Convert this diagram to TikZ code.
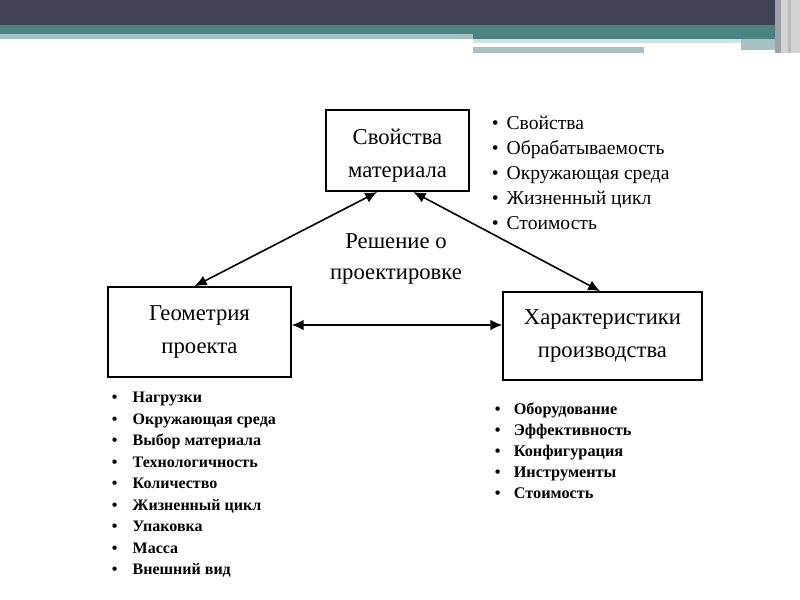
\documentclass[tikz,border=0pt]{standalone}
\usepackage{fontspec}
\setmainfont{Liberation Serif}
\usetikzlibrary{arrows.meta}
\definecolor{kopf}{HTML}{414157}
\definecolor{streifen}{HTML}{4B8383}
\definecolor{hell}{HTML}{A7C1C3}
\begin{document}
\begin{tikzpicture}[x=0.75pt, y=-0.75pt,
			block/.style={draw, line width=1.3pt, align=center, inner sep=0pt, font=\fontsize{17}{24.75}\selectfont},
			punkt/.style={anchor=base west, inner sep=0pt},
			>={Latex[length=9pt,width=8pt]}, %Pfeilspitzen
			line width=1.2pt]
			\useasboundingbox[fill=white] (0,0) rectangle (800,600);
			% Kopfleiste
			\fill[kopf] (0,0) rectangle (800,25);
			\fill[streifen] (0,25) rectangle (775,34);
			\fill[streifen] (473,34) rectangle (775,39);
			\fill[hell] (0,34) rectangle (473,39);
			\fill[hell!50] (473,39) rectangle (741,43);
			\fill[hell] (741,39) rectangle (775,50);
			\fill[hell] (473,47) rectangle (644,53);
			\fill[kopf!50] (775,0) rectangle (781,53);
			\fill[gray!35] (781,0) rectangle (800,53);
			\fill[gray!55] (788,0) rectangle (791,53);
			% Bloecke
			\node[block, minimum width=107pt, minimum height=61pt] (mat) at (397.5,150.5) {\rule{0pt}{19pt}Свойства\\материала};
			\node[block, minimum width=137pt, minimum height=67.5pt] (geo) at (199.5,332) {Геометрия\\проекта};
			\node[block, minimum width=149pt, minimum height=66pt] (her) at (602.5,336) {Характеристики\\производства};
			\node[align=center, font=\fontsize{17}{23.25}\selectfont] (resh) at (396,259) {Решение о\\проектировке};
			% Pfeile
			\draw[<->] (mat.-116) -- (geo.96);
			\draw[<->] (mat.-69) -- (her.93);
			\draw[<->] ([yshift=5.25pt]geo.east) -- ([yshift=8.25pt]her.west);
			% Listen
			\foreach \t [count=\i] in {Свойства, Обрабатываемость, Окружающая среда, Жизненный цикл, Стоимость}
				\node[punkt, font=\fontsize{14.7}{16}\selectfont] (m\i) at (491,104+25*\i) {\textbullet\hspace{6pt}\t};
			\foreach \t [count=\i] in {Нагрузки, Окружающая среда, Выбор материала, Технологичность, Количество, Жизненный цикл, Упаковка, Масса, Внешний вид}
				\node[punkt, font=\fontsize{12}{13}\selectfont\bfseries] (g\i) at (111,381+21.5*\i) {\textbullet\hspace{11.5pt}\t};
			\foreach \t [count=\i] in {Оборудование, Эффективность, Конфигурация, Инструменты, Стоимость}
				\node[punkt, font=\fontsize{12.2}{13}\selectfont\bfseries] (p\i) at (494,393+21*\i) {\textbullet\hspace{10pt}\t};
		\end{tikzpicture}
\end{document}
